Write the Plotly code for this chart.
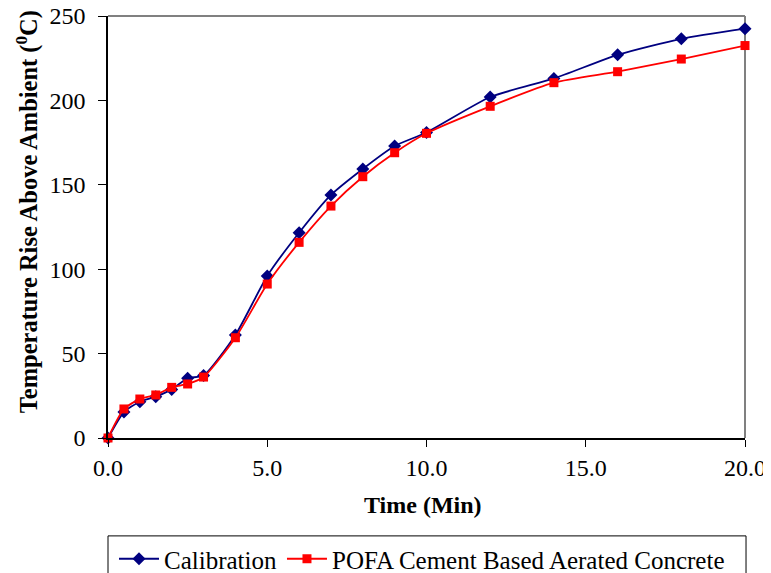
import plotly.graph_objects as go

time_min = [0, 0.5, 1, 1.5, 2, 2.5, 3, 4, 5, 6, 7, 8, 9, 10, 12, 14, 16, 18, 20]
calibration = [0, 15.4, 21.5, 24.5, 28.8, 35.4, 37.0, 61, 96, 121.6, 144, 159.4, 173, 181, 202, 213, 227, 236.5, 242.5]
pofa = [0, 17.2, 23.1, 25.5, 30.0, 32.0, 36.1, 59.4, 91.2, 115.9, 137.4, 154.8, 169, 180.5, 196.5, 210.5, 217, 224.5, 232.5]
x_ticks = [0, 5, 10, 15, 20]
y_ticks = [0, 50, 100, 150, 200, 250]

font_family = "Liberation Serif, Times New Roman, serif"

fig = go.Figure()
fig.add_trace(go.Scatter(
    x=time_min, y=calibration, name="Calibration", mode="lines+markers",
    line=dict(color="#000080", width=1.8, shape="spline", smoothing=0.6),
    marker=dict(symbol="diamond", size=10, color="#000080"),
    cliponaxis=False,
))
fig.add_trace(go.Scatter(
    x=time_min, y=pofa, name="POFA Cement Based Aerated Concrete", mode="lines+markers",
    line=dict(color="#FF0000", width=1.8, shape="spline", smoothing=0.6),
    marker=dict(symbol="square", size=9, color="#FF0000"),
    cliponaxis=False,
))

# gray frame on top / right of plot area
fig.add_shape(type="line", xref="paper", yref="paper", x0=0, y0=1, x1=1, y1=1,
              line=dict(color="#808080", width=2), layer="below")
fig.add_shape(type="line", xref="paper", yref="paper", x0=1, y0=0, x1=1, y1=1,
              line=dict(color="#808080", width=2), layer="below")
# legend box
fig.add_shape(type="rect", xref="paper", yref="paper", x0=0, y0=-0.232, x1=1.0016, y1=-0.40,
              line=dict(color="black", width=1), layer="above")

fig.add_annotation(text="<b>Time (Min)</b>", xref="paper", yref="paper",
                   x=0.4945, y=-0.159, xanchor="center", yanchor="middle",
                   showarrow=False, font=dict(size=24))
fig.add_annotation(text="<b>Temperature Rise Above Ambient (<sup>0</sup>C)</b>", xref="paper", yref="paper",
                   x=-0.127, y=0.535, xanchor="center", yanchor="middle", textangle=-90,
                   showarrow=False, font=dict(size=24.5))

fig.update_layout(
    width=771, height=573,
    margin=dict(l=100, r=34, t=8, b=143, autoexpand=False),
    paper_bgcolor="white", plot_bgcolor="white",
    font=dict(family=font_family, size=24, color="black"),
    showlegend=True,
    legend=dict(orientation="h", xref="container", yref="container",
                x=106 / 771, xanchor="left", y=1 - 528 / 573, yanchor="top",
                borderwidth=0, bgcolor="rgba(0,0,0,0)", font=dict(size=25),
                itemwidth=40, tracegroupgap=0),
)
fig.update_xaxes(
    range=[0, 20], tickvals=x_ticks, tickformat=".1f", automargin=False,
    showline=True, linecolor="black", linewidth=1.5, ticklabeloverflow="allow",
    ticks="outside", ticklen=7, tickcolor="black", showgrid=False, zeroline=False,
)
fig.update_yaxes(
    range=[0, 250], tickvals=y_ticks, automargin=False,
    showline=True, linecolor="black", linewidth=1.5, ticklabeloverflow="allow",
    ticks="outside", ticklen=8, tickcolor="black", showgrid=False, zeroline=False,
    ticklabelstandoff=8,
)

fig.write_html("out.html")
